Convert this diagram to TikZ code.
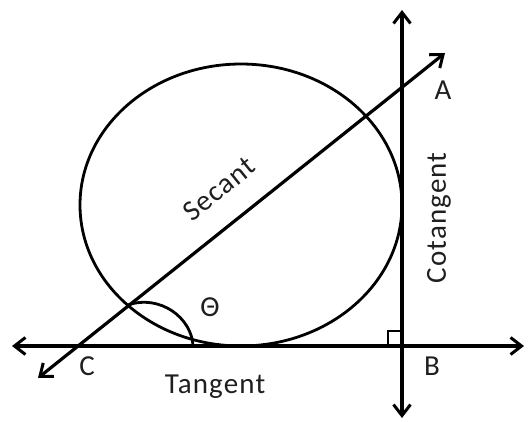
\documentclass[tikz,border=0pt]{standalone}
\usepackage{fontspec}
\setmainfont{Carlito}
\newfontfamily\lblfont[LetterSpace=4]{Carlito}
\usetikzlibrary{arrows.meta}
\begin{document}
\begin{tikzpicture}[x=1pt,y=-1pt,
  axis/.style={line width=3.2pt,{Straight Barb[length=11pt,width=17pt,line width=3pt]}-{Straight Barb[length=11pt,width=17pt,line width=3pt]}},
  lbl/.style={font=\fontsize{29}{31}\lblfont, text=black!88, inner sep=0pt}]
\useasboundingbox (0,0) rectangle (528,421);
\coordinate (H1) at (12,346);
\coordinate (H2) at (524,346);
\coordinate (V1) at (402,10);
\coordinate (V2) at (402,418);
\coordinate (S1) at (38,378);
\coordinate (S2) at (445,53);
\coordinate (Ctr) at (241,205);
\coordinate (P1) at (128,305);
\coordinate (P2) at (193,346);
\draw[line width=2.8pt] (Ctr) ellipse [x radius=161, y radius=141];
\draw[axis] (H1) -- (H2);
\draw[axis] (V1) -- (V2);
\draw[axis] (S1) -- (S2);
\draw[line width=2.8pt] (P1) .. controls (160,294) and (192,318) .. (P2);
\draw[line width=2.2pt] (388,346) -- (388,331) -- (402,331);
\node[lbl] (A) at (443,90) {A};
\node[lbl] (B) at (432,366) {B};
\node[lbl] (C) at (87,366) {C};
\node[lbl] (T) at (215,387) {Tangent};
\node[lbl] (Th) at (210,307) {Θ};
\node[lbl, rotate=39] (S) at (219,189) {Secant};
\node[lbl, rotate=90] (Co) at (439,218) {Cotangent};
\end{tikzpicture}
\end{document}
